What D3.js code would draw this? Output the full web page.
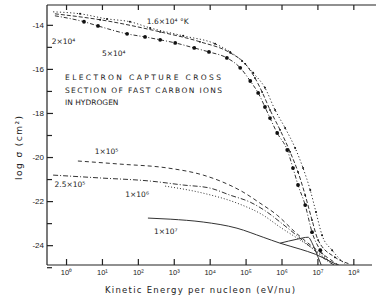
<!DOCTYPE html>
<html>
<head>
<meta charset="utf-8">
<script src="https://cdn.jsdelivr.net/npm/d3@7"></script>
<style>
	body	{ margin:0; background:#fff; }
	svg	{ font-family:"DejaVu Sans", sans-serif; }
	.curve	{ fill:none; stroke:#333; stroke-width:1px; }
	.axis path, .axis line { stroke:#222; stroke-width:1.2px; }
	.axis text { fill:#222; }
	.lbl	{ fill:#222; font-size:7.5px; }
</style>
</head>
<body>
<div id="chart"></div>
<script>
// x values are log10(E in eV/nu), y values are log10(sigma in cm2)
var	xDecades	= [0,1,2,3,4,5,6,7,8],
	yMajor		= [-24,-22,-20,-18,-16,-14],
	yMinor		= [-25,-23,-21,-19,-17,-15];

var	t16e4	= [[-0.36,-13.41],[0.39,-13.5],[1.14,-13.73],[1.78,-13.86],[2.34,-14.14],[3.26,-14.5],[4.15,-14.86],[4.57,-15.23],[4.9,-15.64],[5.21,-16.18],[5.54,-16.86],[5.82,-17.86],[6.1,-18.68],[6.38,-19.59],[6.6,-20.5],[6.8,-21.5],[6.96,-22.5],[7.13,-23.55],[7.41,-24.23],[7.77,-24.86]],
	t2e4	= [[-0.31,-13.5],[0.95,-13.77],[2.62,-14.32],[3.73,-14.77],[4.57,-15.27],[4.99,-15.77],[5.26,-16.41],[5.46,-17.05],[5.68,-17.86],[5.96,-18.77],[6.24,-19.77],[6.46,-20.68],[6.66,-21.73],[6.85,-22.86],[7.02,-23.77],[7.49,-24.55],[7.91,-24.86]],
	t5e4	= [[-0.31,-13.59],[0.5,-13.86],[0.89,-14.05],[1.7,-14.41],[2.2,-14.55],[2.62,-14.68],[3.04,-14.82],[3.57,-15.05],[3.98,-15.23],[4.48,-15.5],[4.85,-15.95],[5.13,-16.55],[5.35,-17.09],[5.54,-17.73],[5.68,-18.23],[5.88,-18.91],[6.16,-19.68],[6.32,-20.5],[6.46,-21.27],[6.66,-22.18],[6.85,-23.41],[7.08,-24.23],[7.35,-24.77]],
	t1e5	= [[0.33,-20.18],[1.5,-20.32],[2.84,-20.5],[3.82,-20.82],[4.37,-21.14],[4.93,-21.59],[5.4,-22.09],[5.88,-22.64],[6.38,-23.41],[6.85,-24.05],[7.35,-24.64],[7.77,-25.1]],
	t25e5	= [[-0.36,-20.82],[0.95,-20.95],[2.34,-21.09],[3.26,-21.27],[4.01,-21.41],[4.57,-21.73],[5.13,-22.05],[5.6,-22.5],[5.96,-22.95],[6.38,-23.5],[6.85,-24.14],[7.29,-24.73],[7.72,-25.1]],
	t1e6	= [[2.76,-21.32],[3.82,-21.64],[4.76,-22.09],[5.49,-22.64],[5.96,-23.18],[6.52,-23.77],[6.94,-24.23],[7.35,-24.77],[7.63,-25.1]],
	t1e7	= [[2.28,-22.77],[2.9,-22.82],[3.82,-22.95],[4.76,-23.23],[5.49,-23.64],[5.96,-23.91],[6.52,-24.18],[6.94,-24.41],[7.35,-24.73],[7.83,-25.1]],
	t1e7b	= [[5.96,-23.91],[6.43,-23.73],[6.74,-23.64],[6.88,-24.0],[7.02,-24.55],[7.13,-25.0]];

var	labels	= [
		{ t:"1.6×10⁴ °K", x:2.25, y:-13.95 },
		{ t:"2×10⁴", x:-0.4, y:-14.85 },
		{ t:"5×10⁴", x:1.0, y:-15.4 },
		{ t:"1×10⁵", x:0.8, y:-19.85 },
		{ t:"2.5×10⁵", x:-0.32, y:-21.35 },
		{ t:"1×10⁶", x:1.65, y:-21.82 },
		{ t:"1×10⁷", x:2.45, y:-23.5 }
	],
	title	= ["ELECTRON CAPTURE CROSS","SECTION OF FAST CARBON IONS","IN HYDROGEN"];

var	W = 376, H = 304,
	x	= d3.scaleLinear().domain([-0.53, 8.52]).range([47, 372]),
	y	= d3.scaleLinear().domain([-24.9, -13.1]).range([265, 5]),
	line	= d3.line().curve(d3.curveMonotoneX)
			.x(function(d) { return x(d[0]); })
			.y(function(d) { return y(d[1]); });

var	svg	= d3.select("#chart").append("svg").attr("width", W).attr("height", H);

function sup(n) { return "⁰¹²³⁴⁵⁶⁷⁸⁹"[n]; }

// frame: left, bottom, top
svg.append("g").attr("class","axis").attr("transform","translate(47,0)")
	.call(d3.axisLeft(y).tickValues(yMajor).tickSize(-6).tickPadding(3).tickFormat(function(d){ return String(d); }))
	.call(function(g) { g.selectAll(".tick text").attr("font-size", 8); g.select(".domain").attr("d","M0,5V265"); });
svg.append("g").attr("class","axis").attr("transform","translate(47,0)")
	.call(d3.axisLeft(y).tickValues(yMinor).tickSize(-5).tickFormat(""))
	.call(function(g) { g.select(".domain").remove(); });
svg.append("g").attr("class","axis").attr("transform","translate(0,265)")
	.call(d3.axisBottom(x).tickValues(xDecades).tickSize(-6).tickPadding(5).tickFormat(function(d){ return "10" + sup(d); }))
	.call(function(g) { g.selectAll(".tick text").attr("font-size", 7.5); g.select(".domain").attr("d","M47,0H372"); });
svg.append("g").attr("class","axis").attr("transform","translate(0,5)")
	.call(d3.axisTop(x).tickValues(xDecades).tickSize(-5).tickFormat(""))
	.call(function(g) { g.select(".domain").attr("d","M47,0H376"); });

// axis titles
svg.append("text").attr("transform","translate(22,148) rotate(-90)").attr("text-anchor","middle")
	.attr("font-size", 9).attr("fill","#222")
	.attr("textLength", 64).attr("lengthAdjust","spacing").text("log σ (cm²)");
svg.append("text").attr("x", 105).attr("y", 293)
	.attr("font-size", 8.5).attr("fill","#222")
	.attr("textLength", 190).attr("lengthAdjust","spacing")
	.text("Kinetic Energy per nucleon (eV/nu)");

// title block
var	tw	= [156, 157, null];
svg.selectAll("text.title").data(title).enter().append("text").attr("class","title")
	.attr("x", 65).attr("y", function(d,i) { return 80 + i*12.5; })
	.attr("font-size", 7.5).attr("fill","#222")
	.attr("textLength", function(d,i) { return tw[i]; }).attr("lengthAdjust","spacing")
	.text(function(d) { return d; });

// curves
var	curves	= [
		{ d:t16e4, dash:"1.2,2.2", dot:1.0 },
		{ d:t2e4,  dash:"4,2", dot:0.9 },
		{ d:t5e4,  dash:"4,2,1,2", dot:1.9 },
		{ d:t1e5,  dash:"4,3", dot:0 },
		{ d:t25e5, dash:"5,2,1,2", dot:0 },
		{ d:t1e6,  dash:"1,2", dot:0 },
		{ d:t1e7,  dash:null, dot:0 },
		{ d:t1e7b, dash:null, dot:0 }
	];
svg.append("defs").append("clipPath").attr("id","clip").append("rect")
	.attr("x", 47).attr("y", 5).attr("width", 329).attr("height", 260);
var	cg	= svg.append("g").attr("clip-path","url(#clip)");
curves.forEach(function(c) {
	cg.append("path").attr("class","curve")
		.attr("d", line(c.d))
		.attr("stroke-dasharray", c.dash);
	if (c.dot)
		cg.selectAll(null).data(c.d.slice(1, -1)).enter().append("circle")
			.attr("cx", function(d) { return x(d[0]); })
			.attr("cy", function(d) { return y(d[1]); })
			.attr("r", c.dot).attr("fill","#111");
});

// curve labels
svg.selectAll("text.lbl").data(labels).enter().append("text").attr("class","lbl")
	.attr("x", function(d) { return x(d.x); })
	.attr("y", function(d) { return y(d.y); })
	.text(function(d) { return d.t; });
</script>
</body>
</html>
